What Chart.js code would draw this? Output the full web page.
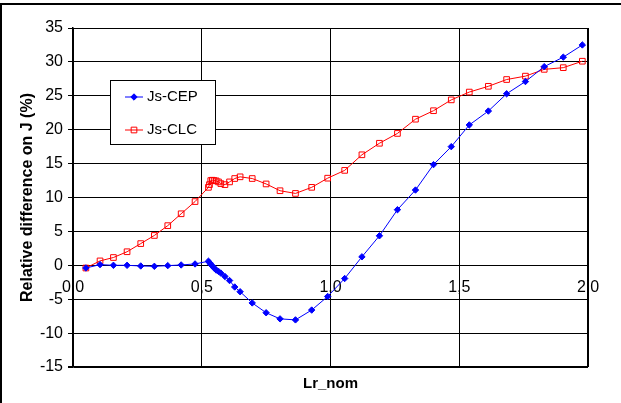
<!DOCTYPE html>
<html lang="en">
<head>
<meta charset="utf-8">
<script src="https://cdn.jsdelivr.net/npm/chart.js"></script>
<style>
  body { margin: 0; background: #fff; }
  canvas { display: block; }
</style>
</head>
<body>
<canvas id="myChart" width="621" height="403"></canvas>
<script>
// Lr_nom values (shared by both series)
const lrNom = [0.05, 0.105, 0.157, 0.21, 0.263, 0.316, 0.368, 0.42, 0.474,
  0.526, 0.530, 0.535, 0.541, 0.548, 0.556, 0.565, 0.574, 0.590, 0.608, 0.628, 0.649,
  0.696, 0.75, 0.804, 0.864, 0.927, 0.989, 1.055, 1.122, 1.19, 1.26, 1.33, 1.40,
  1.469, 1.539, 1.613, 1.684, 1.757, 1.83, 1.904, 1.978];
const jsCep = [-0.4, 0.1, 0, 0, -0.1, -0.15, -0.05, 0.05, 0.2,
  0.6, 0.4, 0.15, -0.1, -0.4, -0.7, -0.9, -1.15, -1.65, -2.25, -3.2, -3.9,
  -5.55, -7.0, -7.9, -8.05, -6.6, -4.6, -1.95, 1.25, 4.35, 8.2, 11.1, 14.85,
  17.5, 20.7, 22.75, 25.3, 27.1, 29.3, 30.7, 32.5];
const jsClc = [-0.4, 0.65, 1.15, 2.0, 3.2, 4.4, 5.85, 7.6, 9.4,
  11.5, 11.9, 12.5, 12.55, 12.5, 12.45, 12.3, 12.05, 11.9, 12.3, 12.8, 13.05,
  12.8, 12.0, 11.0, 10.6, 11.5, 12.85, 14.0, 16.3, 18.0, 19.45, 21.55, 22.8,
  24.4, 25.55, 26.4, 27.4, 27.9, 28.9, 29.15, 30.1];
const seriesNames = ['Js-CEP', 'Js-CLC'];
const xTitle = 'Lr_nom';
const yTitle = 'Relative difference on J (%)';

const FONT = "'Liberation Sans', Arial, sans-serif";

function toPoints(ys) {
  return ys.map((y, i) => ({x: lrNom[i], y: y}));
}

// white page, frame lines, x title and the boxed legend
const decorations = {
  id: 'decorations',
  beforeDraw(chart) {
    const ctx = chart.ctx;
    ctx.save();
    ctx.fillStyle = '#fff';
    ctx.fillRect(0, 0, chart.width, chart.height);
    ctx.fillStyle = '#000';
    ctx.fillRect(0, 3, chart.width, 2);
    ctx.fillRect(0, 3, 2, chart.height);
    ctx.restore();
  },
  afterDraw(chart) {
    const ctx = chart.ctx;
    const area = chart.chartArea;
    ctx.save();
    ctx.fillStyle = '#000';
    ctx.font = 'bold 15px ' + FONT;
    ctx.textAlign = 'center';
    ctx.textBaseline = 'middle';
    ctx.fillText(xTitle, (area.left + area.right) / 2, 384);

    // legend box
    const bx = 110.5, by = 80.5, bw = 105, bh = 64;
    ctx.fillStyle = '#fff';
    ctx.fillRect(bx, by, bw, bh);
    ctx.strokeStyle = '#000';
    ctx.lineWidth = 1;
    ctx.strokeRect(bx, by, bw, bh);
    const rows = [97, 130];
    chart.data.datasets.forEach((ds, i) => {
      const y = rows[i];
      ctx.strokeStyle = ds.borderColor;
      ctx.lineWidth = 1;
      ctx.beginPath();
      ctx.moveTo(125, y);
      ctx.lineTo(143, y);
      ctx.stroke();
      ctx.fillStyle = ds.pointBackgroundColor;
      ctx.strokeStyle = ds.pointBorderColor;
      Chart.helpers.drawPoint(ctx, {
        pointStyle: ds.pointStyle, radius: ds.pointRadius, borderWidth: 1
      }, 134, y);
      ctx.fillStyle = '#000';
      ctx.font = '15px ' + FONT;
      ctx.textAlign = 'left';
      ctx.fillText(ds.label, 147, y);
    });
    ctx.restore();
  }
};

const config = {
  type: 'line',
  data: {
    datasets: [{
      label: seriesNames[0],
      data: toPoints(jsCep),
      borderColor: '#0000ff',
      backgroundColor: '#0000ff',
      pointBackgroundColor: '#0000ff',
      pointBorderColor: '#0000ff',
      pointStyle: 'rectRot',
      pointRadius: 3.2,
      borderWidth: 1
    }, {
      label: seriesNames[1],
      data: toPoints(jsClc),
      borderColor: '#ff0000',
      backgroundColor: 'rgba(255,255,255,0)',
      pointBackgroundColor: 'rgba(255,255,255,0)',
      pointBorderColor: '#ff0000',
      pointStyle: 'rect',
      pointRadius: 4,
      borderWidth: 1
    }]
  },
  options: {
    responsive: false,
    animation: false,
    devicePixelRatio: 1,
    // the x axis sits on y = 0, so the bottom gap is plain padding
    layout: {padding: {top: 28, right: 33, bottom: 36, left: 0}},
    plugins: {legend: {display: false}, tooltip: {enabled: false}},
    scales: {
      x: {
        type: 'linear',
        position: {y: 0},
        min: 0,
        max: 2,
        ticks: {
          stepSize: 0.5,
          color: '#000',
          padding: 8,
          maxRotation: 0,
          font: {family: FONT, size: 16},
          callback: (v) => v.toFixed(1).replace('.', ',')
        },
        grid: {
          color: '#000',
          lineWidth: (c) => (c.tick && c.tick.value === 2 ? 2 : 1),
          tickLength: 5
        },
        border: {color: '#000', width: 1}
      },
      y: {
        min: -15,
        max: 35,
        afterFit(scale) { scale.width = 73; },
        ticks: {
          stepSize: 5,
          color: '#000',
          padding: 5,
          font: {family: FONT, size: 16}
        },
        grid: {
          color: '#000',
          lineWidth: (c) => (c.tick && c.tick.value === -15 ? 2 : 1),
          tickLength: 5
        },
        border: {color: '#000', width: 1.5},
        title: {
          display: true,
          text: yTitle,
          color: '#000',
          padding: {top: 18, bottom: 0},
          font: {family: FONT, size: 16, weight: 'bold'}
        }
      }
    }
  },
  plugins: [decorations]
};

const myChart = new Chart(document.getElementById('myChart'), config);
</script>
</body>
</html>
